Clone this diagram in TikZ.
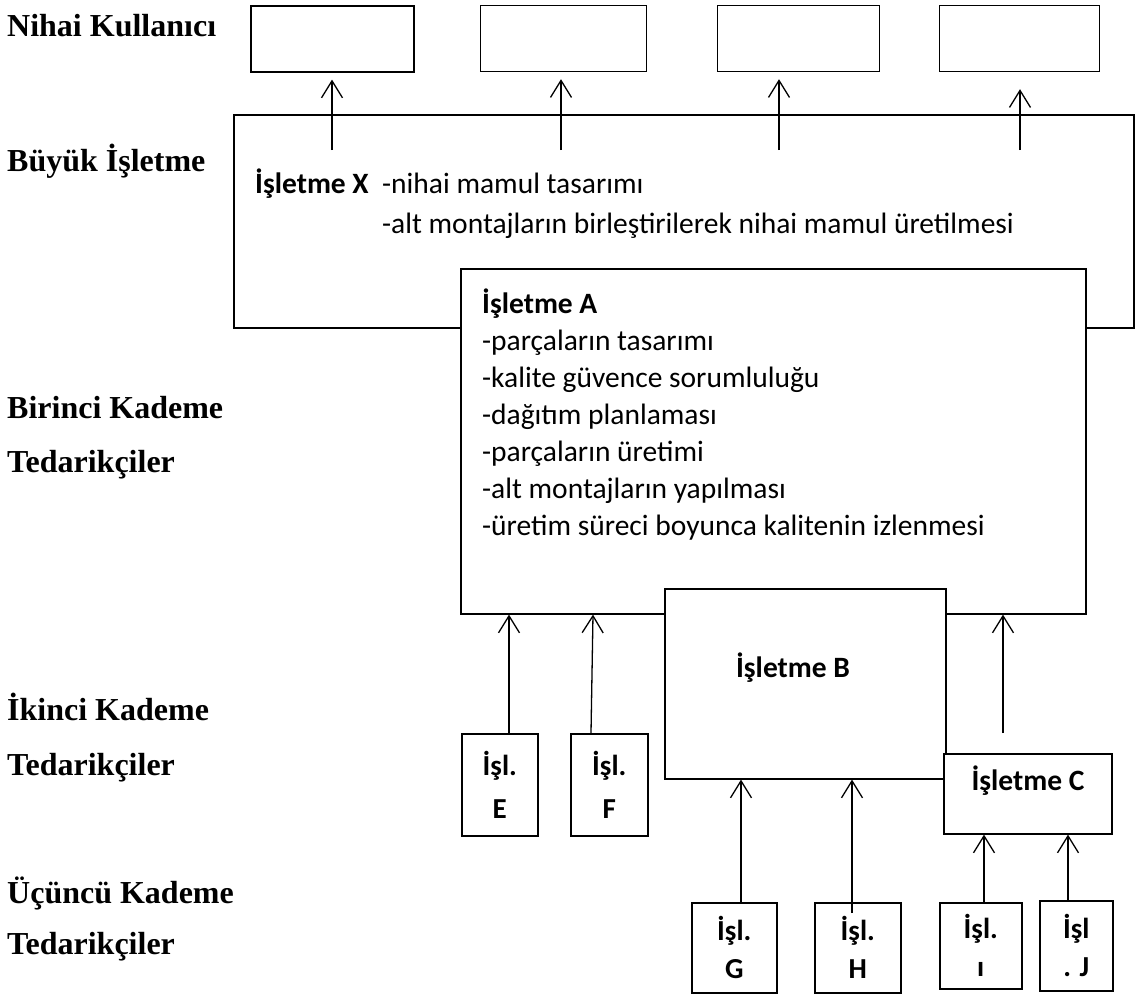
\documentclass[tikz,border=0pt]{standalone}
\usepackage{fontspec}
\setmainfont{Liberation Serif}
\newfontfamily\calfont{Carlito}
\usetikzlibrary{arrows.meta}
\begin{document}
\begin{tikzpicture}[x=1pt,y=-1pt,
  box/.style={draw,line width=1.6pt,inner sep=0pt,anchor=north west,fill=white},
  arr/.style={-{Straight Barb[length=17pt,width=21pt,line width=1.3pt]},line width=1.3pt},
  lvl/.style={anchor=base west,font=\fontsize{32}{36}\selectfont\bfseries,inner sep=0pt},
  body/.style={anchor=base west,font=\calfont\fontsize{29.5}{34}\selectfont,inner sep=0pt},
  bbody/.style={body,font=\calfont\bfseries\fontsize{29.5}{34}\selectfont},
  small/.style={box,align=center,font=\calfont\bfseries\fontsize{29}{43}\selectfont},
  smallb/.style={small,font=\calfont\bfseries\fontsize{29}{38}\selectfont}]
\useasboundingbox (0,0) rectangle (1136,997);
% level labels
\node[lvl] (l1) at (7,36) {Nihai Kullanıcı};
\node[lvl] (l2) at (7,171) {Büyük İşletme};
\node[lvl] (l3) at (7,418) {Birinci Kademe};
\node[lvl] (l4) at (7,472) {Tedarikçiler};
\node[lvl] (l5) at (7,720) {İkinci Kademe};
\node[lvl] (l6) at (7,775) {Tedarikçiler};
\node[lvl] (l7) at (7,903) {Üçüncü Kademe};
\node[lvl] (l8) at (7,954) {Tedarikçiler};
% end-user boxes
\node[box,minimum width=163pt,minimum height=66pt] (n1) at (250,5) {};
\node[box,minimum width=166pt,minimum height=66pt,line width=1.2pt] (n2) at (480,5) {};
\node[box,minimum width=162pt,minimum height=66pt,line width=1.2pt] (n3) at (717,5) {};
\node[box,minimum width=160pt,minimum height=66pt,line width=1.2pt] (n4) at (939,5) {};
% big company X
\node[box,minimum width=900pt,minimum height=213pt] (X) at (233,114) {};
\node[bbody] (xt) at (255,193) {İşletme X};
\node[body] (x1) at (382,193) {-nihai mamul tasarımı};
\node[body] (x2) at (382,233) {-alt montajların birleştirilerek nihai mamul üretilmesi};
% arrows X -> end users
\coordinate (s1) at (332,150);
\coordinate (s2) at (561,150);
\coordinate (s3) at (779,150);
\coordinate (s4) at (1020,150);
\draw[arr,shorten >=7pt] (s1) -- (s1 |- n1.south);
\draw[arr,shorten >=7pt] (s2) -- (s2 |- n2.south);
\draw[arr,shorten >=7pt] (s3) -- (s3 |- n3.south);
\draw[arr,shorten >=17pt] (s4) -- (s4 |- n4.south);
% first tier A
\node[box,minimum width=625pt,minimum height=345pt] (A) at (460,268) {};
\node[bbody] (at) at (482,313) {İşletme A};
\node[body] (a1) at (482,350) {-parçaların tasarımı};
\node[body] (a2) at (482,387) {-kalite güvence sorumluluğu};
\node[body] (a3) at (482,424) {-dağıtım planlaması};
\node[body] (a4) at (482,461) {-parçaların üretimi};
\node[body] (a5) at (482,498) {-alt montajların yapılması};
\node[body] (a6) at (482,535) {-üretim süreci boyunca kalitenin izlenmesi};
% second tier
\node[box,minimum width=281pt,minimum height=190pt] (B) at (664,588) {};
\node[bbody,anchor=base] (bt) at (793,677) {İşletme B};
\node[small,minimum width=76pt,minimum height=102pt] (E) at (461,733) {İşl.\\E};
\node[small,minimum width=77pt,minimum height=102pt] (F) at (570,733) {İşl.\\F};
\node[box,minimum width=168pt,minimum height=80pt] (C) at (943,753) {};
\node[bbody,anchor=base] (ct) at (1028,790) {İşletme C};
% third tier
\node[smallb,minimum width=85pt,minimum height=90pt] (G) at (691,902) {İşl.\\G};
\node[smallb,minimum width=86pt,minimum height=90pt] (H) at (814,902) {İşl.\\H};
\node[smallb,minimum width=82pt,minimum height=86pt] (I) at (939,902) {İşl.\\ı};
\node[smallb,minimum width=73pt,minimum height=90pt] (J) at (1039,900) {İşl\\. J};
% supplier arrows
\draw[arr] (E.north -| 509,0) -- (509,0 |- A.south);
\draw[arr] (F.north -| 591,0) -- (593,0 |- A.south);
\coordinate (cs) at (1003,733);
\draw[arr] (cs) -- (cs |- A.south);
\draw[arr] (741,902) -- (741,0 |- B.south);
\coordinate (hs) at (852,913);
\draw[arr] (hs) -- (hs |- B.south);
\draw[arr] (I.north -| 984,0) -- (984,0 |- C.south);
\draw[arr] (J.north -| 1068,0) -- (1068,0 |- C.south);
\end{tikzpicture}
\end{document}
